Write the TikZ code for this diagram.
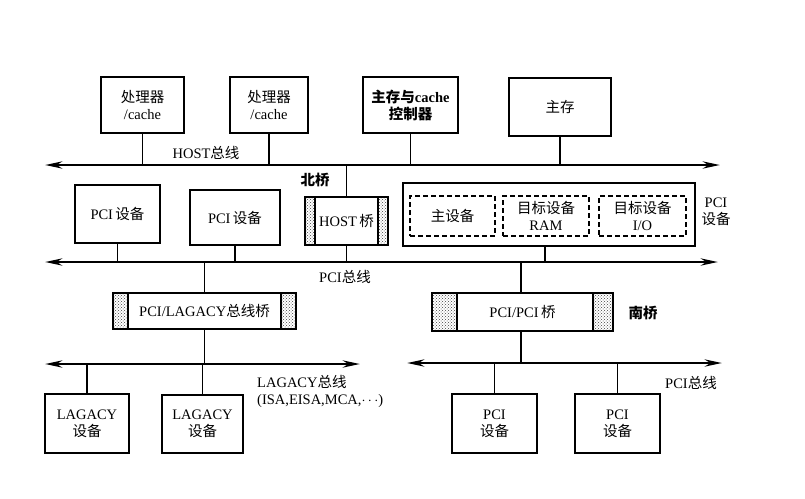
\documentclass[tikz,border=0pt]{standalone}
\usepackage{fontspec}
\setmainfont{Liberation Serif}
\newfontfamily\cjk{Noto Sans CJK SC}
\usetikzlibrary{patterns,arrows.meta}
\newcommand{\zh}[1]{{\cjk #1}}
\begin{document}
\begin{tikzpicture}[x=1pt,y=-1pt,
  txt/.style={font=\fontsize{14.5}{17}\selectfont, align=center, inner sep=1pt},
  box/.style={txt, draw, line width=1.8pt, fill=white},
  dbox/.style={txt, draw, line width=1.4pt, dashed, dash pattern=on 5pt off 3pt},
  bus/.style={line width=2.8pt, {Stealth[length=17pt,width=7pt]}-{Stealth[length=17pt,width=7pt]}},
  link/.style={line width=1.7pt},
  bridge/.style n args={2}{box, path picture={
      \fill[pattern=crosshatch dots, pattern color=black!75] (path picture bounding box.south west) rectangle ([xshift=#1]path picture bounding box.north west);
      \fill[pattern=crosshatch dots, pattern color=black!75] (path picture bounding box.south east) rectangle ([xshift=-#2]path picture bounding box.north east);
      \draw[line width=1.1pt] ([xshift=#1]path picture bounding box.south west) -- ([xshift=#1]path picture bounding box.north west);
      \draw[line width=1.1pt] ([xshift=-#2]path picture bounding box.south east) -- ([xshift=-#2]path picture bounding box.north east);}}
]
\useasboundingbox (0,0) rectangle (805,498);

% HOST bus level
\node[box, minimum width=83pt, minimum height=56pt] (c1) at (142.5,105) {\zh{处理器}\\/cache};
\node[box, minimum width=78pt, minimum height=56pt] (c2) at (269,105) {\zh{处理器}\\/cache};
\node[box, minimum width=95pt, minimum height=56pt] (mc) at (410.5,105) {\bfseries\zh{\bfseries 主存与}cache\\\zh{\bfseries 控制器}};
\node[box, minimum width=102pt, minimum height=58pt] (mm) at (560,107) {\zh{主存}};
\coordinate (hl) at (45,165);
\coordinate (hr) at (720,165);
\draw[bus] (hl) -- (hr);
\foreach \n in {c1,c2,mc,mm} \draw[link] (\n) -- (\n |- hl);
\node[txt] (hlab) at (206,153) {HOST\zh{总线}};

% North bridge
\node[bridge={10pt}{10pt}, minimum width=83pt, minimum height=48pt] (hb) at (346.5,221) {HOST\,\zh{桥}};
\node[txt] (nlab) at (315,180) {\zh{\bfseries 北桥}};
\draw[link] (hb) -- (hb |- hl);

% PCI bus
\coordinate (pl) at (45,262);
\coordinate (pr) at (718,262);
\draw[bus] (pl) -- (pr);
\node[box, minimum width=85pt, minimum height=58pt] (p1) at (117.5,214) {PCI\,\zh{设备}};
\node[box, minimum width=90pt, minimum height=55pt] (p2) at (235,217.5) {PCI\,\zh{设备}};
\node[box, minimum width=292pt, minimum height=63pt] (pb) at (549,214.5) {};
\node[dbox, minimum width=85pt, minimum height=40pt] (d1) at (452.5,216) {\zh{主设备}};
\node[dbox, minimum width=86pt, minimum height=40pt] (d2) at (546,216) {\zh{目标设备}\\RAM};
\node[dbox, minimum width=87pt, minimum height=40pt] (d3) at (642.5,216) {\zh{目标设备}\\I/O};
\node[txt] (pblab) at (716,212) {PCI\\\zh{设备}};
\draw[link] (p1) -- (p1 |- pl);
\draw[link] (p2) -- (p2 |- pl);
\draw[link] (hb) -- (hb |- pl);
\draw[link] ([xshift=-4pt]pb.south) -- ([xshift=-4pt]pb.south |- pl);
\node[txt] (plab) at (345,277) {PCI\zh{总线}};

% PCI/LAGACY bridge
\node[bridge={15pt}{15pt}, minimum width=183pt, minimum height=36pt] (lb) at (204.5,311) {PCI/LAGACY\zh{总线桥}};
\draw[link] (lb) -- (lb |- pl);
\coordinate (ll) at (45,364);
\coordinate (lr) at (360,364);
\draw[bus] (ll) -- (lr);
\draw[link] (lb) -- (lb |- ll);
\node[box, minimum width=84pt, minimum height=59pt] (l1) at (87,423.5) {LAGACY\\\zh{设备}};
\node[box, minimum width=81pt, minimum height=58pt] (l2) at (202.5,424) {LAGACY\\\zh{设备}};
\draw[link] (l1) -- (l1 |- ll);
\draw[link] (l2) -- (l2 |- ll);
\node[txt, align=left, anchor=north west] (llab) at (256,374) {LAGACY\zh{总线}\\(ISA,EISA,MCA,$\cdots$)};

% PCI/PCI bridge
\node[bridge={25pt}{20pt}, minimum width=181pt, minimum height=38pt] (sb) at (522.5,312) {PCI/PCI\,\zh{桥}};
\node[txt] (slab) at (643,313) {\zh{\bfseries 南桥}};
\draw[link] ([xshift=-1.5pt]sb.north) -- ([xshift=-1.5pt]sb.north |- pl);
\coordinate (sl) at (407,363);
\coordinate (sr) at (722,363);
\draw[bus] (sl) -- (sr);
\draw[link] ([xshift=-1.5pt]sb.south) -- ([xshift=-1.5pt]sb.south |- sl);
\node[box, minimum width=85pt, minimum height=59pt] (s1) at (494.5,423.5) {PCI\\\zh{设备}};
\node[box, minimum width=85pt, minimum height=59pt] (s2) at (617.5,423.5) {PCI\\\zh{设备}};
\draw[link] (s1) -- (s1 |- sl);
\draw[link] (s2) -- (s2 |- sl);
\node[txt] (sblab) at (691,383) {PCI\zh{总线}};
\end{tikzpicture}
\end{document}
